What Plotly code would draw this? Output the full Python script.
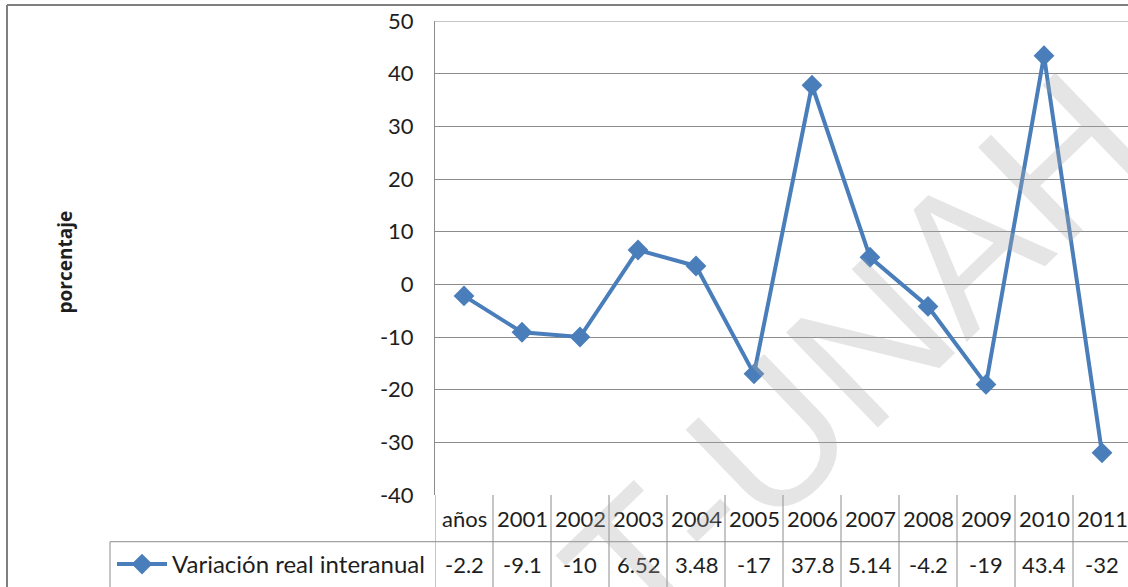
import plotly.graph_objects as go

categories = ["años", "2001", "2002", "2003", "2004", "2005", "2006",
              "2007", "2008", "2009", "2010", "2011"]
values = [-2.2, -9.1, -10, 6.52, 3.48, -17, 37.8, 5.14, -4.2, -19, 43.4, -32]
value_labels = ["-2.2", "-9.1", "-10", "6.52", "3.48", "-17", "37.8",
                "5.14", "-4.2", "-19", "43.4", "-32"]
y_ticks = [50, 40, 30, 20, 10, 0, -10, -20, -30, -40]
series_name = "Variación real interanual"

W, H = 1128, 587
L, T, BOT = 435, 21, 498          # plot area edges in pixels
plot_w = W - L
plot_h = BOT - T
col_px = 58.0

blue = "#4A7EBB"
grid = "#8C8C8C"
font = "Lato, 'Open Sans', sans-serif"
txt = "#1e1e1e"


def px_x(p):
    return (p - L) / plot_w


def px_y(p):
    return (BOT - p) / plot_h


idx = list(range(len(categories)))

fig = go.Figure()
fig.add_trace(
    go.Scatter(
        x=idx,
        y=values,
        mode="lines+markers",
        name=series_name,
        line=dict(color=blue, width=4),
        marker=dict(symbol="diamond", size=16, color=blue),
        cliponaxis=False,
    )
)

shapes = []
ann = []

# data table under the plot
row1_bottom = px_y(545)
table_bottom = px_y(600)
for i in range(-1, len(categories)):
    shapes.append(dict(type="line", xref="x", yref="paper",
                       x0=i + 0.5, x1=i + 0.5, y0=0, y1=table_bottom,
                       line=dict(color=grid, width=1)))
shapes.append(dict(type="line", xref="paper", yref="paper",
                   x0=px_x(110), x1=1.0, y0=row1_bottom, y1=row1_bottom,
                   line=dict(color=grid, width=1)))
shapes.append(dict(type="line", xref="paper", yref="paper",
                   x0=px_x(110), x1=px_x(110), y0=row1_bottom, y1=table_bottom,
                   line=dict(color=grid, width=1)))
# top gridline (kept explicit so it is not dropped at the range edge)
shapes.append(dict(type="line", xref="paper", yref="y",
                   x0=0, x1=1, y0=50, y1=50, line=dict(color=grid, width=1)))
# outer chart border
shapes.append(dict(type="line", xref="paper", yref="paper",
                   x0=px_x(7), x1=px_x(7), y0=px_y(5), y1=px_y(600),
                   line=dict(color="#7F7F7F", width=2)))
shapes.append(dict(type="line", xref="paper", yref="paper",
                   x0=px_x(7), x1=px_x(1140), y0=px_y(5), y1=px_y(5),
                   line=dict(color="#7F7F7F", width=2)))

for i, c in enumerate(categories):
    ann.append(dict(x=i, y=px_y(522), xref="x", yref="paper", text=c,
                    xanchor="center", yanchor="middle", showarrow=False,
                    font=dict(family=font, size=22, color=txt)))
    ann.append(dict(x=i, y=px_y(568), xref="x", yref="paper", text=value_labels[i],
                    xanchor="center", yanchor="middle", showarrow=False,
                    font=dict(family=font, size=22, color=txt)))

ann.append(dict(x=px_x(65), y=px_y(264), xref="paper", yref="paper",
                text="<b>porcentaje</b>", textangle=-90, showarrow=False,
                xanchor="center", yanchor="middle",
                font=dict(family="'Open Sans', sans-serif", size=19, color=txt)))

# watermark
ann.append(dict(x=px_x(855), y=px_y(360), xref="paper", yref="paper",
                text="T-UNAH", textangle=-44, showarrow=False,
                xanchor="center", yanchor="middle",
                font=dict(family="Liberation Sans, Arial, sans-serif", size=192,
                          color="rgba(170,170,170,0.3)")))

fig.update_layout(
    width=W,
    height=H,
    margin=dict(l=L, r=0, t=T, b=H - BOT, pad=0),
    paper_bgcolor="white",
    plot_bgcolor="white",
    showlegend=True,
    legend=dict(x=px_x(112), y=px_y(568), xanchor="left", yanchor="middle",
                font=dict(family=font, size=24, color=txt),
                bgcolor="rgba(0,0,0,0)", itemwidth=50),
    xaxis=dict(range=[-0.5, -0.5 + plot_w / col_px], showticklabels=False,
               showgrid=False, zeroline=False, showline=False),
    yaxis=dict(range=[-40, 50], tickvals=y_ticks,
               ticktext=[str(v) for v in y_ticks], showgrid=True,
               gridcolor=grid, gridwidth=1, zeroline=False,
               showline=True, linecolor=grid, linewidth=1,
               ticks="", ticklabelstandoff=16, ticklabeloverflow="allow",
               tickfont=dict(family=font, size=22, color=txt)),
    shapes=shapes,
    annotations=ann,
)

# drop the default page margin so the figure sits at the window origin
fig.write_html("out.html", config={"displayModeBar": False},
               post_script="document.body.style.margin='0px';")
